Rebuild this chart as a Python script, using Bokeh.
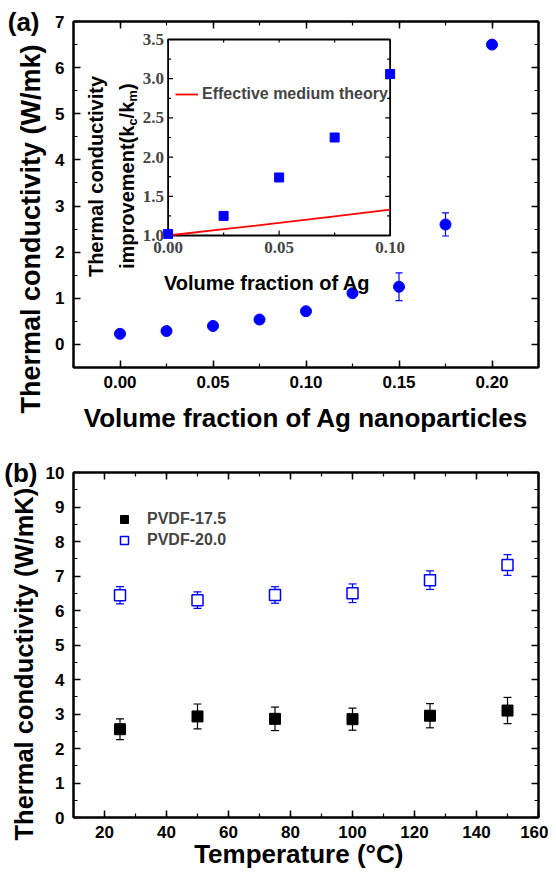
import math
from bokeh.plotting import figure
from bokeh.models import (Range1d, LinearAxis, FixedTicker, NumeralTickFormatter, Whisker,
                          TeeHead, ColumnDataSource, Label, LabelSet, Legend, LegendItem, Title)
from bokeh.layouts import column
from bokeh.embed import file_html
from bokeh.resources import INLINE

# ---------------- data: panel (a) ----------------
frac = [0.0, 0.025, 0.05, 0.075, 0.10, 0.125, 0.15, 0.175, 0.20]
kappa = [0.23, 0.29, 0.40, 0.54, 0.72, 1.11, 1.25, 2.60, 6.50]
kappa_err = [0.0, 0.0, 0.0, 0.0, 0.0, 0.0, 0.30, 0.25, 0.0]
a_xticks = [0.0, 0.05, 0.10, 0.15, 0.20]
a_xminor = [-0.025, 0.0, 0.025, 0.05, 0.075, 0.10, 0.125, 0.15, 0.175, 0.20, 0.225]
a_yticks = [0, 1, 2, 3, 4, 5, 6, 7]
a_yminor = [-0.5, 0, 0.5, 1, 1.5, 2, 2.5, 3, 3.5, 4, 4.5, 5, 5.5, 6, 6.5, 7]

# inset
inset_frac = [0.0, 0.025, 0.05, 0.075, 0.10]
inset_ratio = [1.02, 1.25, 1.74, 2.25, 3.06]
emt_frac = [0.0, 0.025, 0.05, 0.075, 0.10]
emt_ratio = [1.0, 1.08, 1.16, 1.245, 1.33]
inset_xticks = [0.0, 0.05, 0.10]
inset_xlabels = ["0.00", "0.05", "0.10"]
inset_xminor = [0.025, 0.075]
inset_yticks = [1.0, 1.5, 2.0, 2.5, 3.0, 3.5]
inset_ylabels = ["1.0", "1.5", "2.0", "2.5", "3.0", "3.5"]
inset_yminor = [1.25, 1.75, 2.25, 2.75, 3.25]

# ---------------- data: panel (b) ----------------
temps = [25, 50, 75, 100, 125, 150]
pvdf175 = [2.56, 2.93, 2.86, 2.85, 2.95, 3.10]
pvdf175_err = [0.30, 0.36, 0.34, 0.32, 0.35, 0.38]
pvdf200 = [6.44, 6.30, 6.45, 6.50, 6.88, 7.32]
pvdf200_err = [0.25, 0.24, 0.24, 0.27, 0.27, 0.30]
b_xticks = [20, 40, 60, 80, 100, 120, 140, 160]
b_xminor = [10, 20, 30, 40, 50, 60, 70, 80, 90, 100, 110, 120, 130, 140, 150, 160]
b_yticks = [0, 1, 2, 3, 4, 5, 6, 7, 8, 9, 10]
b_yminor = [0, 0.5, 1, 1.5, 2, 2.5, 3, 3.5, 4, 4.5, 5, 5.5, 6, 6.5, 7, 7.5, 8, 8.5, 9, 9.5, 10]

FONT = "Liberation Sans"
BLUE = "#0000FF"
RED = "#FF0000"
NB = "\u00a0"
HAS_TITLE_STANDOFF = "standoff" in Title.properties()


def style(p, xt, xm, yt, ym, xfmt, yfmt):
    p.xgrid.visible = False
    p.ygrid.visible = False
    p.outline_line_color = "black"
    p.outline_line_width = 2
    xa = p.xaxis[0]
    ya = p.yaxis[0]
    top = LinearAxis()
    right = LinearAxis()
    p.add_layout(top, "above")
    p.add_layout(right, "right")
    for ax, t, m, f in [(xa, xt, xm, xfmt), (top, xt, xm, xfmt), (ya, yt, ym, yfmt), (right, yt, ym, yfmt)]:
        ax.ticker = FixedTicker(ticks=t, minor_ticks=m)
        ax.formatter = NumeralTickFormatter(format=f)
        ax.axis_line_width = 2
        ax.major_tick_in = 7
        ax.major_tick_out = 0
        ax.minor_tick_in = 4
        ax.minor_tick_out = 0
        ax.major_tick_line_width = 1.5
        ax.minor_tick_line_width = 1.2
        ax.major_label_text_font = FONT
        ax.major_label_text_font_style = "bold"
        ax.major_label_text_font_size = "17px"
        ax.major_label_text_color = "black"
        ax.major_label_standoff = 8
        ax.axis_label_text_font = FONT
        ax.axis_label_text_font_style = "bold"
        ax.axis_label_text_color = "black"
        ax.axis_label_text_font_size = "26px"
    ya.major_label_standoff = 9
    for ax in (top, right):
        ax.major_label_text_font_size = "1px"
        ax.major_label_text_color = None
        ax.major_label_standoff = 0
    return xa, ya


def y_title(p, text, size, offset, standoff):
    kw = dict(text=text, align="left", offset=offset, vertical_align="top",
              text_font=FONT, text_font_style="bold", text_font_size=size, text_color="black")
    if HAS_TITLE_STANDOFF:
        kw["standoff"] = standoff
    p.add_layout(Title(**kw), "left")


def panel_tag(p, text, tick, standoff):
    # panel letter drawn as the single tick label of an outer, line-less left axis
    ax = LinearAxis(ticker=FixedTicker(ticks=[tick], minor_ticks=[]),
                    major_label_overrides={tick: text})
    ax.axis_line_color = None
    ax.major_tick_line_color = None
    ax.minor_tick_line_color = None
    ax.major_label_text_font = FONT
    ax.major_label_text_font_style = "bold"
    ax.major_label_text_font_size = "26px"
    ax.major_label_text_color = "black"
    ax.major_label_standoff = standoff
    p.add_layout(ax, "left")


def lab(p, text, x, y, xo, yo, size, angle=0.0, align="center", **kw):
    p.add_layout(Label(x=x, y=y, x_offset=xo, y_offset=yo, text=text, angle=angle,
                       text_align=align, text_baseline="middle", text_font=FONT,
                       text_font_style="bold", text_font_size=size, text_color="black", **kw))


# ================= panel (a) =================
AX0, AX1, AY0, AY1 = -0.025, 0.225, -0.5, 7.0
p1 = figure(width=548, height=440, x_range=Range1d(AX0, AX1), y_range=Range1d(AY0, AY1),
            output_backend="svg", toolbar_location=None,
            min_border_left=72, min_border_right=9, min_border_top=21, min_border_bottom=73)
xa1, ya1 = style(p1, a_xticks, a_xminor, a_yticks, a_yminor, "0.00", "0")
xa1.axis_label = "Volume fraction of Ag nanoparticles"
xa1.axis_label_standoff = 12
y_title(p1, "Thermal conductivity (W/mk)", "27px", -46, 9)
panel_tag(p1, "(a)", AY1, -34)

src_a = ColumnDataSource(dict(x=frac, y=kappa,
                              lo=[v - e for v, e in zip(kappa, kappa_err)],
                              hi=[v + e for v, e in zip(kappa, kappa_err)]))
p1.add_layout(Whisker(source=src_a, base="x", lower="lo", upper="hi", line_color=BLUE, line_width=1.2,
                      lower_head=TeeHead(size=7, line_color=BLUE, line_width=1.2),
                      upper_head=TeeHead(size=7, line_color=BLUE, line_width=1.2)))
p1.scatter("x", "y", source=src_a, marker="circle", size=11, fill_color=BLUE, line_color=BLUE)

# inset drawn through its own ranges (pixel geometry of the inset box inside the frame)
FW, FH = 467.0, 346.0
IL, IT, IW, IH = 95.0, 18.0, 223.0, 196.0
ix0, ix1, iy0, iy1 = 0.0, 0.10, 1.0, 3.5
sx = (ix1 - ix0) / IW
sy = (iy1 - iy0) / IH
p1.extra_x_ranges = {"ix": Range1d(ix0 - IL * sx, ix1 + (FW - IL - IW) * sx)}
p1.extra_y_ranges = {"iy": Range1d(iy0 - (FH - IT - IH) * sy, iy1 + IT * sy)}
R = dict(x_range_name="ix", y_range_name="iy")

p1.quad(left=[ix0], right=[ix1], bottom=[iy0], top=[iy1], fill_color="white",
        line_color="black", line_width=1.8, **R)
TK = dict(length_units="screen", line_color="black", line_width=1.2, **R)
p1.ray(x=inset_xticks, y=[iy0] * 3, length=5, angle=math.pi / 2, **TK)
p1.ray(x=inset_xminor, y=[iy0] * 2, length=3, angle=math.pi / 2, **TK)
p1.ray(x=inset_xticks + inset_xminor, y=[iy1] * 5, length=3, angle=-math.pi / 2, **TK)
p1.ray(x=[ix0] * 6, y=inset_yticks, length=5, angle=0, **TK)
p1.ray(x=[ix0] * 5, y=inset_yminor, length=3, angle=0, **TK)
p1.ray(x=[ix1] * 6, y=inset_yticks, length=5, angle=math.pi, **TK)
p1.ray(x=[ix1] * 5, y=inset_yminor, length=3, angle=math.pi, **TK)

red = p1.line(emt_frac, emt_ratio, line_color=RED, line_width=1.8, **R)
p1.scatter(inset_frac, inset_ratio, marker="square", size=9, fill_color=BLUE, line_color=BLUE, **R)

p1.add_layout(LabelSet(source=ColumnDataSource(dict(x=inset_xticks, y=[iy0] * 3, t=inset_xlabels)),
                       x="x", y="y", text="t", y_offset=-12, text_align="center", text_baseline="middle",
                       text_font=FONT, text_font_style="bold", text_font_size="17px", **R))
p1.add_layout(LabelSet(source=ColumnDataSource(dict(x=[ix0] * 6, y=inset_yticks, t=inset_ylabels)),
                       x="x", y="y", text="t", x_offset=-4, text_align="right", text_baseline="middle",
                       text_font=FONT, text_font_style="bold", text_font_size="17px", **R))
lab(p1, "Volume fraction of Ag", 0.05, iy0, -12, -47, "20px", **R)
lab(p1, "Thermal conductivity", ix0, iy0, -72, 59, "20px", angle=math.pi / 2, **R)
y2 = 59 - 92.5
lab(p1, "improvement(k", ix0, iy0, -41, y2, "20px", angle=math.pi / 2, align="left", **R)
lab(p1, "c", ix0, iy0, -36, y2 + 143.4, "13px", angle=math.pi / 2, align="left", **R)
lab(p1, "/k", ix0, iy0, -41, y2 + 150.6, "20px", angle=math.pi / 2, align="left", **R)
lab(p1, "m", ix0, iy0, -36, y2 + 167.3, "13px", angle=math.pi / 2, align="left", **R)
lab(p1, ")", ix0, iy0, -41, y2 + 178.9, "20px", angle=math.pi / 2, align="left", **R)

leg1 = Legend(items=[LegendItem(label="Effective medium theory", renderers=[red])],
              location=(102, 263), glyph_width=23, glyph_height=20, label_standoff=4,
              padding=0, margin=0, border_line_color=None, background_fill_alpha=0,
              label_text_font=FONT, label_text_font_style="bold", label_text_font_size="16px")
p1.add_layout(leg1)

# ================= panel (b) =================
BX0, BX1, BY0, BY1 = 10, 160, 0, 10
p2 = figure(width=548, height=438, x_range=Range1d(BX0, BX1), y_range=Range1d(BY0, BY1),
            output_backend="svg", toolbar_location=None,
            min_border_left=73, min_border_right=10, min_border_top=32, min_border_bottom=61)
xa2, ya2 = style(p2, b_xticks, b_xminor, b_yticks, b_yminor, "0", "0")
xa2.axis_label = "Temperature (°C)" + NB * 2
xa2.axis_label_standoff = -2
y_title(p2, "Thermal conductivity (W/mK)", "25.5px", -23, 6)
panel_tag(p2, "(b)", BY1, -37)

src_b1 = ColumnDataSource(dict(x=temps, y=pvdf175,
                               lo=[v - e for v, e in zip(pvdf175, pvdf175_err)],
                               hi=[v + e for v, e in zip(pvdf175, pvdf175_err)]))
src_b2 = ColumnDataSource(dict(x=temps, y=pvdf200,
                               lo=[v - e for v, e in zip(pvdf200, pvdf200_err)],
                               hi=[v + e for v, e in zip(pvdf200, pvdf200_err)]))
for s, c in ((src_b1, "black"), (src_b2, BLUE)):
    p2.add_layout(Whisker(source=s, base="x", lower="lo", upper="hi", line_color=c, line_width=1.2,
                          lower_head=TeeHead(size=8, line_color=c, line_width=1.2),
                          upper_head=TeeHead(size=8, line_color=c, line_width=1.2)))
r1 = p2.scatter("x", "y", source=src_b1, marker="square", size=11, fill_color="black", line_color="black")
r2 = p2.scatter("x", "y", source=src_b2, marker="square", size=11, fill_color="white", line_color=BLUE, line_width=1.5)

leg2 = Legend(items=[LegendItem(label="PVDF-17.5", renderers=[r1]), LegendItem(label="PVDF-20.0", renderers=[r2])],
              location=(41, 267), glyph_width=20, glyph_height=20, label_standoff=13, spacing=1,
              padding=0, margin=0, border_line_color=None, background_fill_alpha=0,
              label_text_font=FONT, label_text_font_style="bold", label_text_font_size="16px")
p2.add_layout(leg2)

layout = column(p1, p2, spacing=0)
open("out.html", "w").write(file_html(layout, INLINE))
